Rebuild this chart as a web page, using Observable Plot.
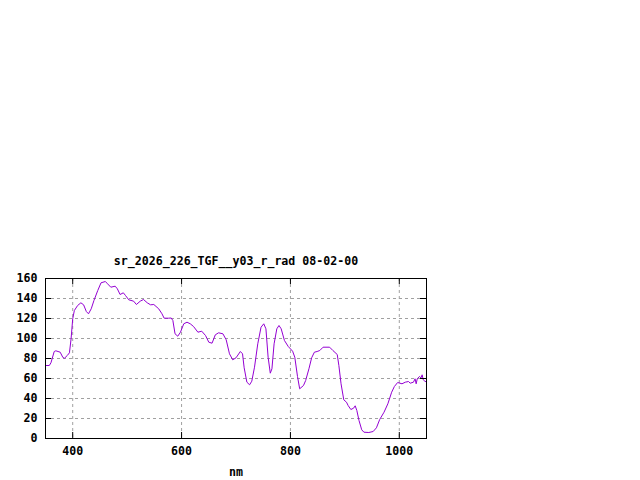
<!DOCTYPE html>
<html>
<head>
<meta charset="utf-8">
<script src="https://cdn.jsdelivr.net/npm/d3@7"></script>
<script src="https://cdn.jsdelivr.net/npm/@observablehq/plot@0.6"></script>
<style>
  html, body { margin: 0; padding: 0; background: #fff; }
  #chart { width: 640px; height: 480px; }
</style>
</head>
<body>
<div id="chart"></div>
<script>
const titleText = "sr_2026_226_TGF__y03_r_rad 08-02-00";
const xLabel = "nm";
const xTicks = [400, 600, 800, 1000];
const yTicks = [0, 20, 40, 60, 80, 100, 120, 140, 160];
const yGrid = [20, 40, 60, 80, 100, 120, 140];

const wavelength = [351, 357, 360, 366, 369, 377, 382, 385, 390, 394, 397, 400, 403, 409, 415, 420, 425, 429, 434, 439, 446, 452, 460, 464, 470, 478, 482, 487, 493, 497, 503, 512, 517, 524, 530, 537, 543, 549, 558, 564, 568, 576, 581, 584, 588, 593, 598, 604, 610, 616, 622, 630, 637, 644, 650, 656, 662, 668, 676, 682, 688, 694, 700, 708, 712, 715, 720, 725, 729, 734, 740, 746, 751, 755, 759, 763, 766, 770, 775, 779, 783, 789, 796, 804, 808, 813, 817, 824, 828, 834, 839, 844, 849, 854, 860, 872, 878, 886, 889, 893, 898, 903, 906, 911, 916, 919, 922, 926, 931, 935, 944, 952, 958, 964, 972, 979, 986, 991, 997, 1005, 1011, 1017, 1020, 1026, 1029, 1031, 1033, 1037, 1040, 1042, 1044, 1047, 1050];
const radiance = [73, 73, 75.7, 87, 87.7, 86.3, 81, 80.3, 83, 85.7, 99.7, 119.7, 128, 133, 135.7, 133.7, 127, 124.7, 129.7, 138, 148, 155.7, 157, 154.7, 151.3, 152.3, 149.7, 144, 145.7, 143, 138.7, 137.3, 134, 137.3, 139, 135.7, 133.7, 134, 129.7, 124.7, 120.3, 120.3, 120.5, 118, 104.7, 102.3, 106.3, 114.7, 116.3, 114.7, 112, 106.3, 107.3, 103, 96.3, 95.3, 103.7, 105.7, 104.7, 98.7, 84.7, 78.7, 80.7, 87, 84.7, 70.7, 56.3, 53.7, 57.3, 71.3, 94.7, 111.3, 114.7, 109.7, 81.3, 65.3, 69.7, 94.7, 109.7, 113, 109.7, 98, 92, 87.3, 81.3, 62, 49.7, 53, 58, 69.7, 80.7, 86.3, 87, 88, 91.3, 91.3, 88, 84, 73, 54.7, 38.7, 36.3, 33, 29, 30.3, 32.7, 28, 18, 8.7, 6.3, 6, 7, 10.7, 19, 26.3, 34.7, 46.3, 52, 56, 54.7, 56.3, 57, 55.3, 56.3, 59.7, 54.7, 59.7, 62, 60.7, 63.7, 58.7, 57.3, 56.5];

const data = wavelength.map((w, i) => ({w, v: radiance[i]}));

const font = "'DejaVu Sans Mono', 'Liberation Mono', monospace";
const gridColor = "#a0a0a0";
const lineColor = "#9400d3";
const tickLen = 6;
const frameH = 160, frameW = 381;

const chart = Plot.plot({
  width: 640,
  height: 480,
  marginLeft: 45,
  marginRight: 214,
  marginTop: 278,
  marginBottom: 42,
  style: {fontFamily: font, fontSize: "11.6px", fontWeight: "bold", background: "#fff", color: "#000"},
  x: {domain: [350, 1050]},
  y: {domain: [0, 160]},
  marks: [
    // grid
    Plot.ruleX(xTicks, {x: d => d, stroke: gridColor, strokeDasharray: "3,3", strokeWidth: 1}),
    Plot.ruleY(yGrid, {y: d => d, stroke: gridColor, strokeDasharray: "3,3", strokeWidth: 1}),
    // data line
    Plot.line(data, {x: "w", y: "v", stroke: lineColor, strokeWidth: 1}),
    // inward ticks, bottom and top
    Plot.tickX(xTicks, {x: d => d, stroke: "#000", insetTop: frameH - tickLen}),
    Plot.tickX(xTicks, {x: d => d, stroke: "#000", insetBottom: frameH - tickLen}),
    // inward ticks, left and right
    Plot.tickY(yTicks, {y: d => d, stroke: "#000", insetRight: frameW - tickLen}),
    Plot.tickY(yTicks, {y: d => d, stroke: "#000", insetLeft: frameW - tickLen}),
    Plot.frame({stroke: "#000", strokeWidth: 1}),
    // axes labels
    Plot.axisX(xTicks, {tickSize: 0, tickPadding: 8, tickFormat: d3.format("d"), fontSize: "11.6px", fontWeight: "bold", fill: "#000", label: null}),
    Plot.axisY(yTicks, {tickSize: 0, tickPadding: 8, tickFormat: d3.format("d"), fontSize: "11.6px", fontWeight: "bold", fill: "#000", label: null}),
    Plot.text([xLabel], {frameAnchor: "bottom", dy: 37, fontSize: "11.6px", fontWeight: "bold", fill: "#000"}),
    Plot.text([titleText], {frameAnchor: "top", dy: -22, fontSize: "11.6px", fontWeight: "bold", fill: "#000"})
  ]
});
document.getElementById("chart").appendChild(chart);
</script>
</body>
</html>
